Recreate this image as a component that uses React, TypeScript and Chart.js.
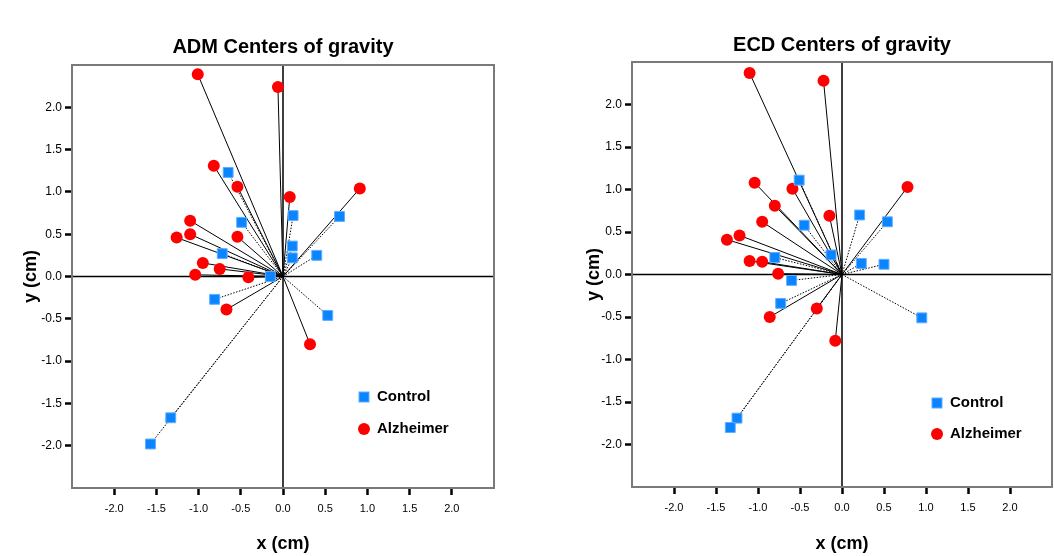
import React, { useEffect, useRef } from 'react';
import { Chart, registerables } from 'chart.js';

Chart.register(...registerables);

// ---------- data ----------
const seriesNames = ['Control', 'Alzheimer'];
const chartTitles = ['ADM Centers of gravity', 'ECD Centers of gravity'];
const tickValues = [-2.0, -1.5, -1.0, -0.5, 0.0, 0.5, 1.0, 1.5, 2.0];

const admControlX = [-0.65, -0.49, -0.72, -0.15, 0.12, 0.11, 0.11, 0.67, 0.40, 0.53, -0.81, -1.33, -1.57];
const admControlY = [1.23, 0.64, 0.27, 0.0, 0.72, 0.36, 0.22, 0.71, 0.25, -0.46, -0.27, -1.67, -1.98];
const admAlzX = [-1.01, -0.06, -0.82, -0.54, 0.08, -1.10, -1.10, -1.26, -0.54, -0.95, -0.75, -1.04, -0.41, 0.91, 0.32, -0.67];
const admAlzY = [2.39, 2.24, 1.31, 1.06, 0.94, 0.66, 0.50, 0.46, 0.47, 0.16, 0.09, 0.02, -0.01, 1.04, -0.80, -0.39];

const ecdControlX = [-0.51, -0.45, -0.13, -0.80, -0.60, -0.73, -1.25, -1.33, 0.21, 0.54, 0.23, 0.50, 0.95];
const ecdControlY = [1.11, 0.58, 0.23, 0.20, -0.07, -0.34, -1.69, -1.80, 0.70, 0.62, 0.13, 0.12, -0.51];
const ecdAlzX = [-1.10, -0.22, -1.04, -0.59, -0.80, -0.15, -0.95, -1.22, -1.37, -1.10, -0.95, -0.76, -0.86, -0.30, -0.08, 0.78];
const ecdAlzY = [2.37, 2.28, 1.08, 1.01, 0.81, 0.69, 0.62, 0.46, 0.41, 0.16, 0.15, 0.01, -0.50, -0.40, -0.78, 1.03];

// ---------- styles ----------
const FONT = '"Liberation Sans", Arial, Helvetica, sans-serif';
const BLUE = '#0a84ff';
const BLUE_EDGE = '#5eaeff';
const RED = '#ff0000';

const framePlugin = {
  id: 'frame',
  beforeDatasetsDraw(chart: any) {
    const { ctx, chartArea, scales } = chart;
    const { left, right, top, bottom } = chartArea;
    const x0 = scales.x.getPixelForValue(0);
    const y0 = scales.y.getPixelForValue(0);
    ctx.save();
    ctx.strokeStyle = '#000';
    ctx.lineWidth = 1.5;
    ctx.beginPath();
    ctx.moveTo(x0, top);
    ctx.lineTo(x0, bottom);
    ctx.moveTo(left, y0);
    ctx.lineTo(right, y0);
    ctx.stroke();
    ctx.strokeStyle = '#7a7a7a';
    ctx.lineWidth = 2;
    ctx.strokeRect(left, top, right - left, bottom - top);
    ctx.restore();
  },
  afterDraw(chart: any, _args: any, opts: any) {
    const { ctx, chartArea } = chart;
    const bx = chartArea.left + opts.dx;
    const by = chartArea.top + opts.dy;
    ctx.save();
    // Control marker
    ctx.fillStyle = BLUE;
    ctx.fillRect(bx - 5, by - 5, 10, 10);
    ctx.strokeStyle = BLUE_EDGE;
    ctx.lineWidth = 1;
    ctx.strokeRect(bx - 5, by - 5, 10, 10);
    // Alzheimer marker
    ctx.fillStyle = RED;
    ctx.beginPath();
    ctx.arc(bx, by + opts.gap, 6, 0, Math.PI * 2);
    ctx.fill();
    ctx.fillStyle = '#000';
    ctx.font = `bold 15px ${FONT}`;
    ctx.textBaseline = 'middle';
    ctx.textAlign = 'left';
    ctx.fillText(seriesNames[0], bx + 13, by);
    ctx.fillText(seriesNames[1], bx + 13, by + opts.gap);
    ctx.restore();
  },
};

type Panel = {
  title: string;
  cx: number[];
  cy: number[];
  ax: number[];
  ay: number[];
  yWidth: number;
  yTitlePad: number;
  xHeight: number;
  padRight: number;
  titlePadTop: number;
  titlePadBottom: number;
  legend: { dx: number; dy: number; gap: number };
};

function buildConfig(p: Panel): any {
  const ctrl = p.cx.map((x, i) => ({ x, y: p.cy[i] }));
  const alz = p.ax.map((x, i) => ({ x, y: p.ay[i] }));
  const datasets: any[] = [
    {
      label: seriesNames[0],
      data: ctrl,
      pointStyle: 'rect',
      pointRadius: 7,
      backgroundColor: BLUE,
      borderColor: BLUE_EDGE,
      borderWidth: 1,
      order: 0,
    },
    {
      label: seriesNames[1],
      data: alz,
      pointStyle: 'circle',
      pointRadius: 6,
      backgroundColor: RED,
      borderColor: RED,
      borderWidth: 0,
      order: 0,
    },
    ...ctrl.map((pt) => ({
      label: seriesNames[0] + ' line',
      data: [{ x: 0, y: 0 }, pt],
      showLine: true,
      borderColor: '#000',
      borderWidth: 1,
      borderDash: [1.5, 1.5],
      pointRadius: 0,
      order: 1,
    })),
    ...alz.map((pt) => ({
      label: seriesNames[1] + ' line',
      data: [{ x: 0, y: 0 }, pt],
      showLine: true,
      borderColor: '#000',
      borderWidth: 1,
      pointRadius: 0,
      order: 1,
    })),
  ];

  const common = (axis: 'x' | 'y') => ({
    type: 'linear',
    min: -2.5,
    max: 2.5,
    afterBuildTicks: (s: any) => {
      s.ticks = tickValues.map((v) => ({ value: v }));
    },
    ticks: {
      callback: (v: any) => Number(v).toFixed(1),
      font: { family: FONT, size: axis === 'x' ? 11 : 12 },
      color: '#000',
      padding: axis === 'x' ? 7 : 3,
      autoSkip: false,
      maxRotation: 0,
    },
    grid: {
      drawOnChartArea: false,
      drawTicks: true,
      tickLength: 7,
      tickWidth: 2.5,
      tickColor: '#000',
    },
    border: { display: false },
  });

  return {
    type: 'scatter',
    data: { datasets },
    plugins: [framePlugin],
    options: {
      animation: false,
      responsive: true,
      maintainAspectRatio: false,
      layout: { padding: { left: 0, right: p.padRight, top: 0, bottom: 0 } },
      scales: {
        x: {
          ...common('x'),
          title: {
            display: true,
            text: 'x (cm)',
            color: '#000',
            font: { family: FONT, size: 18, weight: 'bold', lineHeight: 1.2 },
            padding: { top: 0, bottom: 1 },
          },
          afterFit: (s: any) => {
            s.height = p.xHeight;
          },
        },
        y: {
          ...common('y'),
          title: {
            display: true,
            text: 'y (cm)',
            color: '#000',
            font: { family: FONT, size: 18, weight: 'bold', lineHeight: 1.2 },
            padding: { top: p.yTitlePad, bottom: 0 },
          },
          afterFit: (s: any) => {
            s.width = p.yWidth;
          },
        },
      },
      plugins: {
        legend: { display: false },
        tooltip: { enabled: false },
        title: {
          display: true,
          text: p.title,
          fullSize: false,
          color: '#000',
          font: { family: FONT, size: 20, weight: 'bold', lineHeight: 1.2 },
          padding: { top: p.titlePadTop, bottom: p.titlePadBottom },
        },
        frame: p.legend,
      },
    },
  };
}

// title box height = 24 (20px * 1.2) + top + bottom padding
const panels: Panel[] = [
  {
    title: chartTitles[0],
    cx: admControlX,
    cy: admControlY,
    ax: admAlzX,
    ay: admAlzY,
    yWidth: 72,
    yTitlePad: 20,
    xHeight: 68,
    padRight: 33,
    titlePadTop: 35,
    titlePadBottom: 6,
    legend: { dx: 292, dy: 332, gap: 32 },
  },
  {
    title: chartTitles[1],
    cx: ecdControlX,
    cy: ecdControlY,
    ax: ecdAlzX,
    ay: ecdAlzY,
    yWidth: 105,
    yTitlePad: 56,
    xHeight: 69,
    padRight: 2,
    titlePadTop: 33,
    titlePadBottom: 5,
    legend: { dx: 305, dy: 341, gap: 31 },
  },
];

function ChartPanel({ panel, left, width }: { panel: Panel; left: number; width: number }) {
  const ref = useRef<HTMLCanvasElement | null>(null);
  useEffect(() => {
    if (!ref.current) return;
    const chart = new Chart(ref.current, buildConfig(panel));
    return () => chart.destroy();
  }, [panel]);
  return (
    <div style={{ position: 'absolute', left, top: 0, width, height: 556 }}>
      <canvas ref={ref} />
    </div>
  );
}

export default function App() {
  return (
    <div style={{ position: 'absolute', left: 0, top: 0, width: 1054, height: 556, background: '#fff', overflow: 'hidden' }}>
      <ChartPanel panel={panels[0]} left={0} width={527} />
      <ChartPanel panel={panels[1]} left={527} width={533} />
    </div>
  );
}
